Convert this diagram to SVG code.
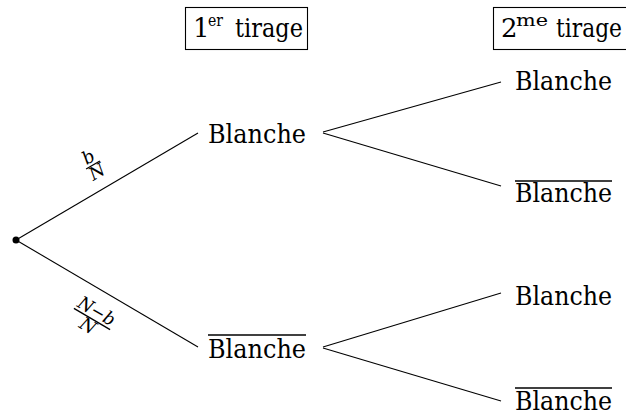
<svg xmlns="http://www.w3.org/2000/svg" width="626" height="416" viewBox="0 0 626 416">
<style>
text{font-family:'DejaVu Serif','Liberation Serif',serif;fill:#000}
.lbl{font-size:26px}
.sup{font-size:17px}
.fr{font-size:18px;font-style:italic;text-anchor:middle}
.e{stroke:#000;stroke-width:1.1;fill:none}
.ov{stroke:#000;stroke-width:1.3}
.box{fill:#fff;stroke:#000;stroke-width:1.1}
</style>
<rect width="626" height="416" fill="#fff"/>
<g id="connectors">
<line class="e" x1="16" y1="240" x2="198" y2="133"/>
<line class="e" x1="16" y1="240" x2="198" y2="347"/>
<line class="e" x1="323" y1="132" x2="501" y2="82"/>
<line class="e" x1="323" y1="133" x2="501" y2="186"/>
<line class="e" x1="323" y1="347" x2="501" y2="293"/>
<line class="e" x1="323" y1="348" x2="501" y2="401"/>
</g>
<g id="edge-labels">
<g transform="translate(93,165) rotate(-30.5)">
<text class="fr" x="0" y="-3">b</text>
<line class="ov" x1="-8" y1="0" x2="8" y2="0"/>
<text class="fr" x="0" y="14">N</text>
</g>
<g transform="translate(92,319) rotate(30.5)">
<text class="fr" x="0" y="-3" textLength="40" lengthAdjust="spacingAndGlyphs">N−b</text>
<line class="ov" x1="-21" y1="0" x2="21" y2="0"/>
<text class="fr" x="0" y="14">N</text>
</g>
</g>
<g id="header1">
<rect class="box" x="185.5" y="7.5" width="122" height="42"/>
<text class="lbl" x="193" y="37">1</text>
<text class="sup" x="208" y="26" textLength="15" lengthAdjust="spacingAndGlyphs">er</text>
<text class="lbl" x="235" y="37" textLength="68" lengthAdjust="spacingAndGlyphs">tirage</text>
</g>
<g id="header2">
<rect class="box" x="493.5" y="7.5" width="140" height="42"/>
<text class="lbl" x="501" y="37">2</text>
<text class="sup" x="516" y="26" textLength="32" lengthAdjust="spacingAndGlyphs">me</text>
<text class="lbl" x="556" y="37" textLength="66" lengthAdjust="spacingAndGlyphs">tirage</text>
</g>
<g id="root"><circle cx="16" cy="240" r="3.5" fill="#000"/></g>
<g id="n1"><text class="lbl" x="208" y="143" textLength="98" lengthAdjust="spacingAndGlyphs">Blanche</text></g>
<g id="n2"><line class="ov" x1="208" y1="335" x2="306" y2="335"/><text class="lbl" x="208" y="358" textLength="98" lengthAdjust="spacingAndGlyphs">Blanche</text></g>
<g id="n11"><text class="lbl" x="515" y="90" textLength="97" lengthAdjust="spacingAndGlyphs">Blanche</text></g>
<g id="n12"><line class="ov" x1="515" y1="181" x2="612" y2="181"/><text class="lbl" x="515" y="202" textLength="97" lengthAdjust="spacingAndGlyphs">Blanche</text></g>
<g id="n21"><text class="lbl" x="515" y="305" textLength="97" lengthAdjust="spacingAndGlyphs">Blanche</text></g>
<g id="n22"><line class="ov" x1="515" y1="388" x2="612" y2="388"/><text class="lbl" x="515" y="410" textLength="97" lengthAdjust="spacingAndGlyphs">Blanche</text></g>
</svg>
